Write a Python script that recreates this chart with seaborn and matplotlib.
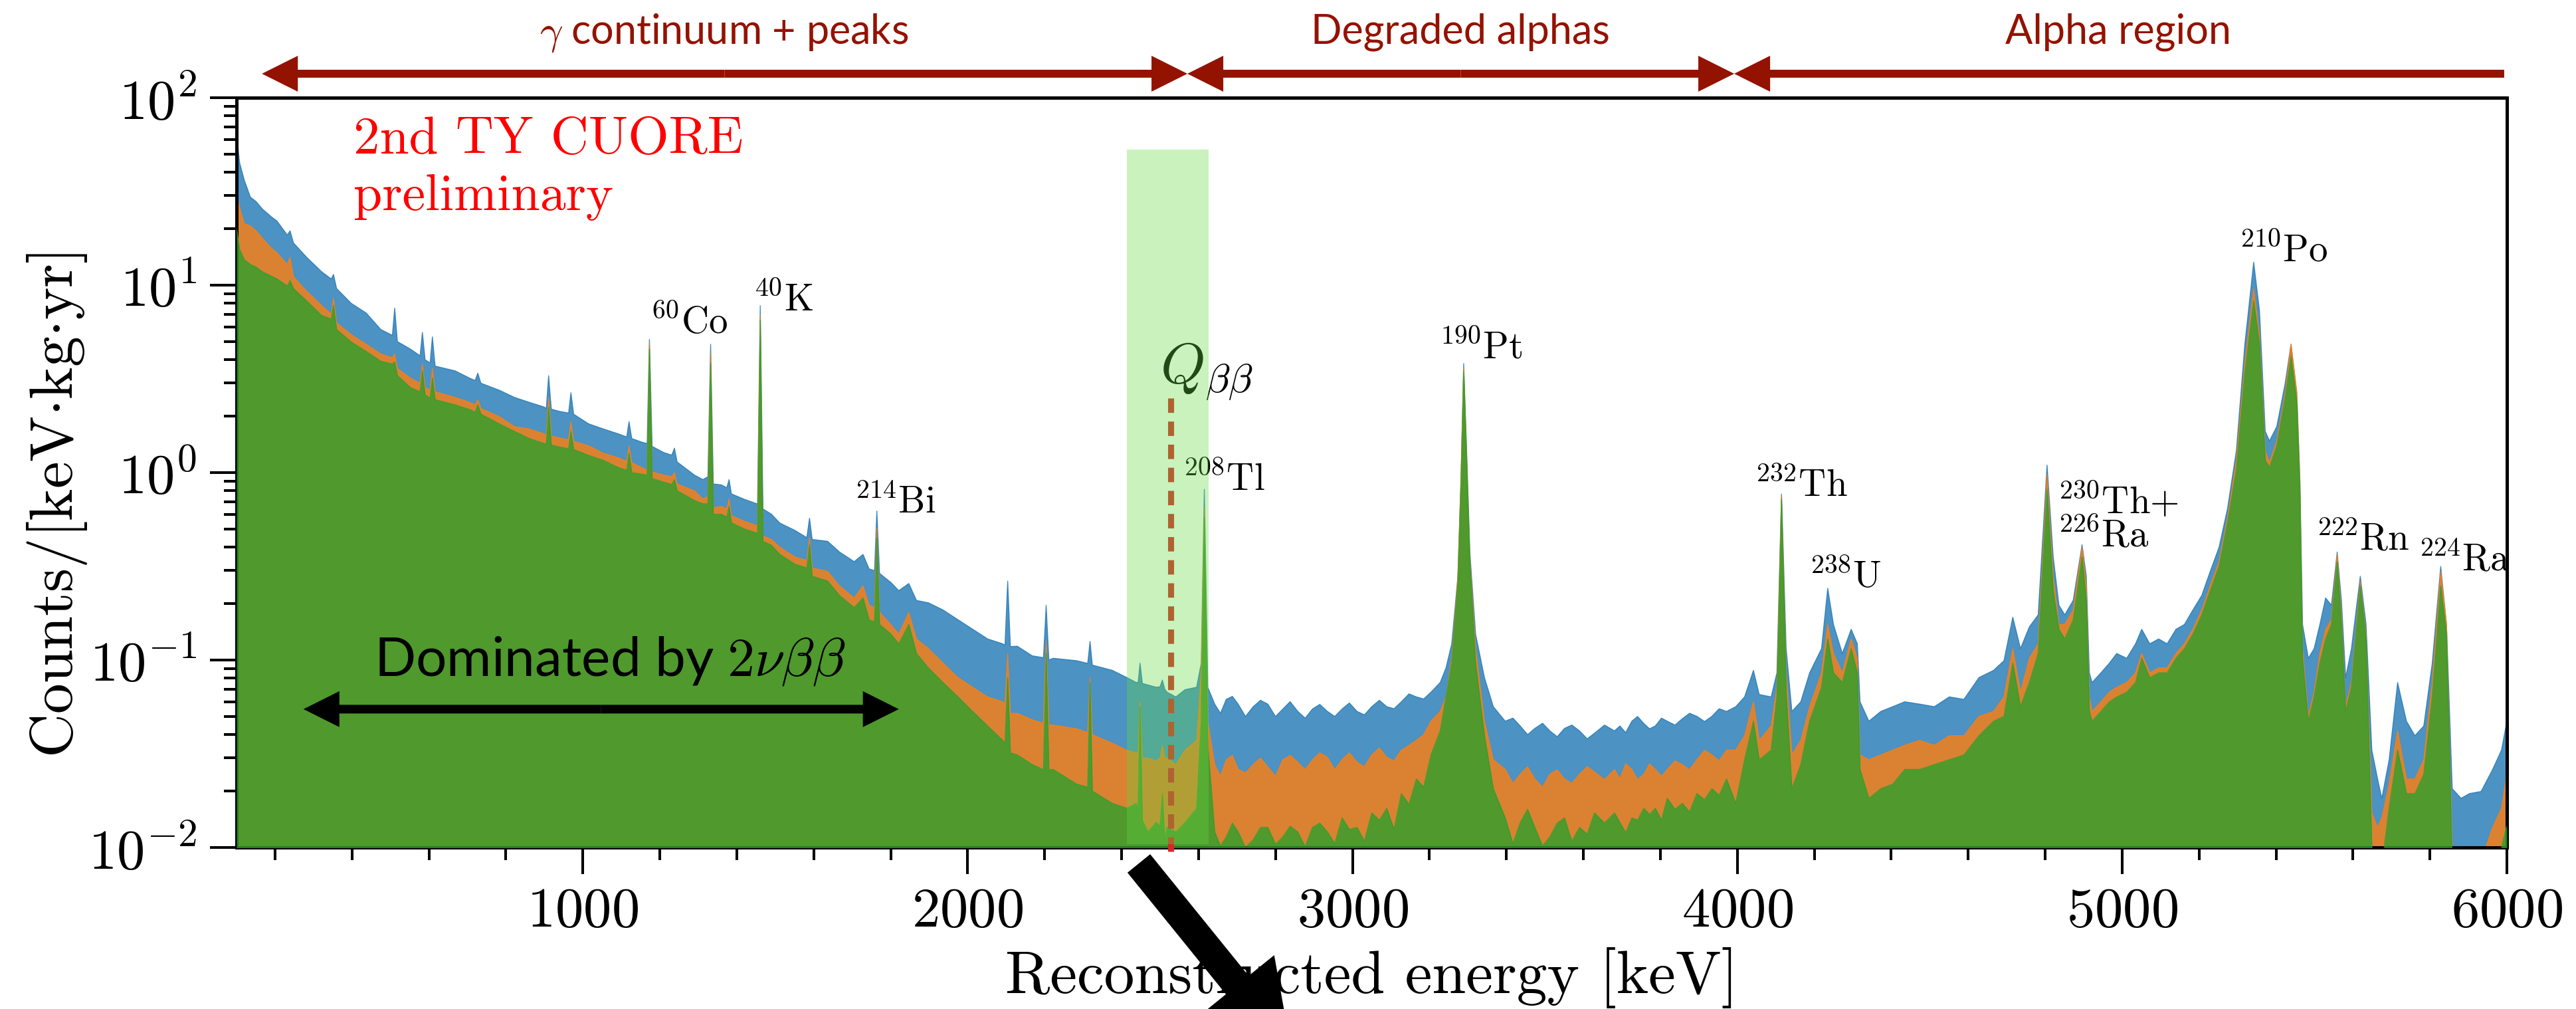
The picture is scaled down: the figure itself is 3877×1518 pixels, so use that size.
import matplotlib
matplotlib.use("Agg")
import matplotlib.pyplot as plt
import seaborn as sns
import numpy as np
from matplotlib.ticker import MultipleLocator, LogLocator, NullFormatter
from matplotlib.patches import FancyArrow
from matplotlib.transforms import IdentityTransform

# ---------------- data ----------------
energy_keV = [
    100, 108, 120, 136, 151, 167, 190, 205, 232, 239,
    248, 282, 321, 346, 352, 360, 398, 437, 475, 505,
    511, 518, 552, 577, 583, 590, 603, 609, 616, 668,
    706, 720, 727, 735, 783, 822, 861, 899, 905, 911,
    918, 940, 963, 969, 976, 1015, 1053, 1092, 1114, 1120,
    1127, 1155, 1167, 1173, 1180, 1210, 1231, 1238, 1245, 1290,
    1312, 1325, 1332, 1339, 1360, 1374, 1380, 1386, 1420, 1454,
    1461, 1468, 1490, 1512, 1551, 1582, 1589, 1596, 1636, 1667,
    1705, 1728, 1744, 1758, 1764, 1771, 1800, 1821, 1847, 1867,
    1898, 1936, 1975, 2013, 2052, 2091, 2097, 2104, 2111, 2129,
    2168, 2197, 2204, 2211, 2222, 2283, 2312, 2318, 2324, 2376,
    2414, 2438, 2443, 2448, 2454, 2468, 2490, 2500, 2506, 2512,
    2518, 2541, 2565, 2595, 2607, 2615, 2624, 2642, 2672, 2703,
    2742, 2780, 2819, 2858, 2896, 2935, 2973, 3012, 3050, 3089,
    3127, 3166, 3204, 3228, 3243, 3258, 3274, 3282, 3289, 3297,
    3305, 3320, 3343, 3366, 3397, 3436, 3474, 3513, 3551, 3590,
    3629, 3681, 3695, 3726, 3757, 3787, 3818, 3857, 3895, 3934,
    3972, 3996, 4019, 4042, 4057, 4088, 4103, 4115, 4127, 4142,
    4165, 4188, 4219, 4235, 4250, 4273, 4296, 4312, 4319, 4342,
    4373, 4404, 4435, 4474, 4512, 4551, 4589, 4628, 4666, 4693,
    4716, 4736, 4759, 4782, 4805, 4821, 4836, 4851, 4873, 4896,
    4907, 4915, 4922, 4945, 4967, 4986, 5012, 5035, 5051, 5072,
    5095, 5117, 5140, 5162, 5184, 5207, 5229, 5252, 5274, 5297,
    5319, 5342, 5357, 5372, 5383, 5402, 5424, 5439, 5454, 5462,
    5469, 5484, 5499, 5514, 5529, 5544, 5559, 5570, 5581, 5596,
    5619, 5634, 5649, 5664, 5675, 5694, 5716, 5739, 5761, 5784,
    5806, 5828, 5843, 5858, 5881, 5903, 5933, 5963, 5986, 6000,
]

counts_blue = [
    65, 45, 36.4, 29.5, 27.9, 25.5, 23.2, 22.0, 18.5, 19.5,
    16.8, 14.1, 11.8, 10.8, 11.4, 9.6, 8.0, 7.1, 5.8, 5.4,
    7.55, 5.0, 4.56, 4.2, 5.6, 4.0, 3.85, 5.3, 3.7, 3.49,
    3.19, 3.1, 3.39, 3.0, 2.75, 2.52, 2.37, 2.24, 2.2, 3.29,
    2.18, 2.12, 2.08, 2.67, 2.05, 1.82, 1.71, 1.61, 1.55, 1.87,
    1.52, 1.45, 1.43, 5.13, 1.38, 1.28, 1.24, 1.35, 1.14, 0.97,
    0.918, 0.95, 4.84, 0.87, 0.86, 0.83, 0.918, 0.77, 0.72, 0.68,
    7.78, 0.64, 0.60, 0.538, 0.492, 0.45, 0.571, 0.44, 0.43, 0.377,
    0.335, 0.366, 0.306, 0.30, 0.624, 0.29, 0.26, 0.2345, 0.256, 0.208,
    0.202, 0.185, 0.164, 0.146, 0.1296, 0.1221, 0.12, 0.264, 0.118, 0.1185,
    0.1053, 0.103, 0.196, 0.10, 0.1022, 0.0992, 0.096, 0.1258, 0.094, 0.0881,
    0.0806, 0.0759, 0.076, 0.0963, 0.075, 0.0737, 0.0716, 0.072, 0.0782, 0.070,
    0.0674, 0.0636, 0.0695, 0.0716, 0.0963, 0.815, 0.0716, 0.0582, 0.0617, 0.0582,
    0.0564, 0.0582, 0.0548, 0.0532, 0.0548, 0.0532, 0.0548, 0.0532, 0.0564, 0.0564,
    0.0599, 0.0636, 0.0674, 0.0759, 0.0908, 0.1221, 0.280, 0.918, 3.82, 1.235,
    0.377, 0.1375, 0.0806, 0.0564, 0.0472, 0.0445, 0.0432, 0.0419, 0.0432, 0.0419,
    0.0407, 0.0419, 0.0445, 0.0472, 0.0459, 0.0445, 0.0472, 0.0486, 0.0501, 0.0501,
    0.0532, 0.0564, 0.0636, 0.0881, 0.0655, 0.0636, 0.0855, 0.768, 0.1151, 0.0532,
    0.0599, 0.0855, 0.1151, 0.2416, 0.1548, 0.1084, 0.1459, 0.1221, 0.0599, 0.0472,
    0.0532, 0.0564, 0.0599, 0.0582, 0.0564, 0.0636, 0.0617, 0.0806, 0.0881, 0.0992,
    0.1692, 0.1151, 0.1503, 0.1743, 1.097, 0.355, 0.196, 0.1743, 0.2083, 0.412,
    0.280, 0.0855, 0.0759, 0.0855, 0.0963, 0.1084, 0.1022, 0.1221, 0.1459, 0.1221,
    0.1296, 0.1221, 0.1459, 0.1548, 0.185, 0.221, 0.297, 0.400, 0.643, 1.31,
    4.84, 13.27, 7.33, 1.662, 1.476, 1.76, 3.01, 4.84, 2.67, 0.918,
    0.1548, 0.1022, 0.1151, 0.1548, 0.2145, 0.196, 0.377, 0.2083, 0.0806, 0.1151,
    0.280, 0.1548, 0.0331, 0.0232, 0.0183, 0.0294, 0.0759, 0.0472, 0.0395, 0.0445,
    0.0963, 0.316, 0.1548, 0.0206, 0.0183, 0.0194, 0.0199, 0.0261, 0.0331, 0.0472,
]

counts_orange = [
    31, 26, 21.3, 20.7, 19.5, 17.85, 15.8, 14.9, 12.9, 14.1,
    11.1, 9.3, 7.8, 7.0, 8.5, 6.3, 5.45, 4.84, 4.3, 4.1,
    4.3, 3.6, 3.19, 3.0, 3.8, 2.85, 2.75, 3.6, 2.7, 2.52,
    2.37, 2.3, 2.45, 2.2, 1.99, 1.76, 1.71, 1.61, 1.58, 2.52,
    1.57, 1.53, 1.50, 1.87, 1.47, 1.39, 1.27, 1.20, 1.15, 1.39,
    1.13, 1.06, 1.03, 4.84, 1.01, 0.97, 0.95, 1.0, 0.87, 0.80,
    0.724, 0.746, 4.30, 0.65, 0.66, 0.64, 0.724, 0.59, 0.55, 0.52,
    6.91, 0.46, 0.44, 0.40, 0.355, 0.34, 0.45, 0.31, 0.297, 0.249,
    0.2145, 0.249, 0.196, 0.19, 0.507, 0.18, 0.155, 0.1375, 0.1796, 0.1296,
    0.1151, 0.0963, 0.0806, 0.0716, 0.0636, 0.060, 0.058, 0.1084, 0.052, 0.052,
    0.048, 0.046, 0.1258, 0.045, 0.045, 0.043, 0.041, 0.0806, 0.040, 0.036,
    0.033, 0.032, 0.032, 0.0599, 0.030, 0.030, 0.029, 0.030, 0.0351, 0.030,
    0.030, 0.0277, 0.0331, 0.0373, 0.0855, 0.643, 0.0472, 0.0277, 0.0294, 0.0261,
    0.0277, 0.0269, 0.0294, 0.0285, 0.0294, 0.0303, 0.0294, 0.0285, 0.0312, 0.0303,
    0.0331, 0.0373, 0.0472, 0.0532, 0.0636, 0.1022, 0.280, 0.918, 3.60, 1.164,
    0.355, 0.1151, 0.0472, 0.0294, 0.0261, 0.0246, 0.0232, 0.0246, 0.0232, 0.0246,
    0.0253, 0.0261, 0.0232, 0.0261, 0.0246, 0.0261, 0.0261, 0.0277, 0.0294, 0.0312,
    0.0331, 0.0331, 0.0395, 0.0599, 0.0373, 0.0445, 0.0716, 0.746, 0.0855, 0.0312,
    0.0373, 0.0564, 0.0855, 0.1548, 0.1084, 0.0855, 0.1296, 0.1022, 0.0312, 0.0294,
    0.0312, 0.0331, 0.0351, 0.0373, 0.0351, 0.0395, 0.0395, 0.0501, 0.0532, 0.0636,
    0.1151, 0.0674, 0.1022, 0.1221, 0.974, 0.280, 0.1548, 0.1548, 0.185, 0.400,
    0.249, 0.0636, 0.0532, 0.0599, 0.0674, 0.0716, 0.0759, 0.0855, 0.1084, 0.0855,
    0.0908, 0.0908, 0.1084, 0.1221, 0.1459, 0.185, 0.249, 0.335, 0.571, 1.164,
    3.82, 9.57, 5.45, 1.31, 1.13, 1.476, 2.67, 4.84, 2.67, 0.918,
    0.1151, 0.0501, 0.0674, 0.1084, 0.1459, 0.164, 0.366, 0.1743, 0.0564, 0.0759,
    0.264, 0.1375, 0.0153, 0.0128, 0.0144, 0.0218, 0.0419, 0.0232, 0.0232, 0.0294,
    0.0759, 0.297, 0.1548, 0.0101, 0.008, 0.008, 0.0085, 0.0128, 0.0162, 0.025,
]

counts_green = [
    20, 15.5, 13.7, 12.9, 12.5, 11.8, 11.2, 10.8, 9.9, 10.6,
    9.6, 8.25, 6.9, 6.6, 7.8, 5.8, 4.98, 4.43, 3.93, 3.8,
    3.9, 3.3, 2.84, 2.7, 3.5, 2.6, 2.5, 3.2, 2.45, 2.30,
    2.17, 2.1, 2.30, 2.05, 1.82, 1.66, 1.52, 1.43, 1.42, 2.24,
    1.40, 1.37, 1.34, 1.66, 1.33, 1.235, 1.164, 1.065, 1.03, 1.27,
    1.00, 0.98, 0.97, 4.56, 0.93, 0.89, 0.865, 0.918, 0.80, 0.71,
    0.682, 0.682, 3.82, 0.60, 0.60, 0.58, 0.662, 0.54, 0.50, 0.475,
    6.51, 0.43, 0.41, 0.366, 0.325, 0.31, 0.412, 0.28, 0.264, 0.221,
    0.1905, 0.2145, 0.164, 0.16, 0.45, 0.155, 0.138, 0.1221, 0.1548, 0.1084,
    0.0908, 0.0759, 0.0636, 0.0532, 0.0445, 0.0373, 0.036, 0.0806, 0.032, 0.0312,
    0.0277, 0.026, 0.1084, 0.026, 0.0261, 0.0218, 0.021, 0.0759, 0.020, 0.0172,
    0.0162, 0.0172, 0.016, 0.0564, 0.014, 0.0121, 0.0136, 0.013, 0.0194, 0.011,
    0.0128, 0.0121, 0.0136, 0.0162, 0.0472, 0.571, 0.0351, 0.0121, 0.0114, 0.0121,
    0.0110, 0.0128, 0.0114, 0.0121, 0.0128, 0.0121, 0.0144, 0.0128, 0.0153, 0.0162,
    0.0194, 0.0232, 0.0312, 0.0419, 0.0636, 0.0963, 0.264, 0.865, 3.49, 1.097,
    0.335, 0.0963, 0.0395, 0.0206, 0.0144, 0.0136, 0.0128, 0.0114, 0.0144, 0.0128,
    0.0153, 0.0153, 0.0136, 0.0144, 0.0162, 0.0162, 0.0183, 0.0172, 0.0194, 0.0206,
    0.0232, 0.0172, 0.0294, 0.0472, 0.0294, 0.0331, 0.0636, 0.724, 0.0674, 0.0206,
    0.0277, 0.0472, 0.0716, 0.1296, 0.0855, 0.0759, 0.1151, 0.0855, 0.0261, 0.0183,
    0.0206, 0.0218, 0.0261, 0.0261, 0.0277, 0.0294, 0.0312, 0.0395, 0.0472, 0.0501,
    0.0963, 0.0564, 0.0759, 0.1084, 0.815, 0.2345, 0.1459, 0.1296, 0.164, 0.355,
    0.2083, 0.0532, 0.0472, 0.0532, 0.0599, 0.0636, 0.0674, 0.0759, 0.1022, 0.0806,
    0.0855, 0.0855, 0.1022, 0.1151, 0.1375, 0.1743, 0.2345, 0.316, 0.538, 1.034,
    3.39, 8.25, 4.84, 1.164, 1.065, 1.39, 2.52, 4.17, 2.37, 0.815,
    0.1022, 0.0472, 0.0636, 0.0963, 0.1296, 0.1548, 0.335, 0.1548, 0.0532, 0.0716,
    0.249, 0.1296, 0.0101, 0.008, 0.008, 0.0162, 0.0331, 0.0194, 0.0194, 0.0246,
    0.0636, 0.249, 0.1375, 0.008, 0.006, 0.006, 0.006, 0.0063, 0.0101, 0.013,
]

# extra readings of the bin-to-bin jitter in the flat "degraded alpha" stretch
detail_energy_keV = [
    2657, 2688, 2722, 2761, 2800, 2838, 2877, 2915, 2954, 2992,
    3031, 3070, 3108, 3147, 3185,
    3417, 3455, 3494, 3532, 3570, 3610, 3655, 3710, 3741, 3772,
    3803, 3838, 3876, 3915, 3953,
]
detail_blue = [
    0.052, 0.064, 0.050, 0.061, 0.050, 0.060, 0.049, 0.058, 0.050, 0.059,
    0.051, 0.061, 0.055, 0.066, 0.062,
    0.049, 0.040, 0.046, 0.039, 0.045, 0.038, 0.045, 0.041, 0.050, 0.043,
    0.049, 0.045, 0.052, 0.047, 0.055,
]
detail_orange = [
    0.024, 0.031, 0.025, 0.030, 0.024, 0.031, 0.026, 0.032, 0.026, 0.032,
    0.027, 0.034, 0.029, 0.035, 0.040,
    0.022, 0.027, 0.021, 0.026, 0.022, 0.027, 0.023, 0.028, 0.023, 0.028,
    0.024, 0.029, 0.026, 0.033, 0.029,
]
detail_green = [
    0.0102, 0.0135, 0.0100, 0.0128, 0.0104, 0.0130, 0.0101, 0.0135, 0.0105, 0.0125,
    0.0108, 0.0140, 0.0125, 0.0170, 0.0210,
    0.0105, 0.0160, 0.0102, 0.0135, 0.0108, 0.0118, 0.0135, 0.0120, 0.0140, 0.0150,
    0.0140, 0.0160, 0.0155, 0.0180, 0.0190,
]

# isotope labels: (text, energy of label left edge, counts at baseline)
isotope_labels = [r"$^{60}\mathrm{Co}$", r"$^{40}\mathrm{K}$", r"$^{214}\mathrm{Bi}$",
                  r"$^{208}\mathrm{Tl}$", r"$^{190}\mathrm{Pt}$", r"$^{232}\mathrm{Th}$",
                  r"$^{238}\mathrm{U}$", r"$^{230}\mathrm{Th}{+}$", r"$^{226}\mathrm{Ra}$",
                  r"$^{210}\mathrm{Po}$", r"$^{222}\mathrm{Rn}$", r"$^{224}\mathrm{Ra}$"]
isotope_label_energy = [1175, 1443, 1705, 2559, 3226, 4046, 4187, 4833, 4833, 5304, 5505, 5771]
isotope_label_counts = [5.51, 7.28, 0.608, 0.80, 4.04, 0.745, 0.241, 0.603, 0.401, 13.3, 0.388, 0.301]

q_bb_keV = 2528
roi_keV = [2414, 2626]
region_names = [r"$\gamma$ continuum + peaks", "Degraded alphas", "Alpha region"]
region_text_keV = [1367, 3281, 4990]
region_bounds_keV = [166, 2571, 3992, 5993]

assert len(energy_keV) == len(counts_blue) == len(counts_orange) == len(counts_green)
assert len(detail_energy_keV) == len(detail_blue) == len(detail_orange) == len(detail_green)

# merge the main readings with the jitter readings, ordered by energy
all_e = np.array(energy_keV + detail_energy_keV, dtype=float)
order = np.argsort(all_e, kind="stable")
E = all_e[order]
blue = np.array(counts_blue + detail_blue)[order]
orange = np.array(counts_orange + detail_orange)[order]
green = np.array(counts_green + detail_green)[order]

# ---------------- style ----------------
sns.set_theme(style="ticks")
plt.rcParams.update({
    "font.family": ["cmr10", "DejaVu Sans"],
    "mathtext.fontset": "cm",
    "axes.formatter.use_mathtext": True,
    "axes.edgecolor": "black",
    "axes.labelcolor": "black",
    "text.color": "black",
    "xtick.color": "black",
    "ytick.color": "black",
})

W, H, DPI = 3877, 1518, 100
fig = plt.figure(figsize=(W / DPI, H / DPI), dpi=DPI)
ax = fig.add_axes([356 / W, 1 - 1275 / H, (3773 - 356) / W, 1128 / H])

pal = sns.color_palette("tab10")
series = [(blue, pal[0], 1), (orange, pal[1], 2), (green, pal[2], 3)]
for vals, col, z in series:
    ax.fill_between(E, 1e-4, vals, color=col, alpha=0.8, lw=0, zorder=z)
    sns.lineplot(x=E, y=vals, ax=ax, color=col, alpha=0.8, lw=1.0,
                 sort=False, estimator=None, zorder=z)

ax.set_yscale("log")
ax.set_xlim(100, 6000)
ax.set_ylim(0.01, 100)

# ROI band and Q-value line
ax.axvspan(roi_keV[0], roi_keV[1], ymin=0.004, ymax=0.931,
           color=(99 / 255, 217 / 255, 64 / 255), alpha=0.34, lw=0, zorder=6)
ax.plot([q_bb_keV, q_bb_keV], [0.0095, 2.52], color=pal[3], lw=6.5,
        dashes=(2.4, 1.45), zorder=4, clip_on=False)
ax.text(2500, 3.01, r"$Q_{\beta\beta}$", fontsize=62, ha="left", va="baseline", zorder=5)

for lab, ex, cy in zip(isotope_labels, isotope_label_energy, isotope_label_counts):
    ax.text(ex, cy, lab, fontsize=41, ha="left", va="baseline", zorder=5)

# red preliminary label
ax.text(0.0515, 0.9255, "2nd TY CUORE", transform=ax.transAxes, fontsize=57,
        color="red", ha="left", va="baseline", zorder=7)
ax.text(0.0515, 0.850, "preliminary", transform=ax.transAxes, fontsize=56,
        color="red", ha="left", va="baseline", zorder=7)

# ticks and spines
for sp in ax.spines.values():
    sp.set_linewidth(3.6)
    sp.set_visible(True)
ax.xaxis.set_major_locator(MultipleLocator(1000))
ax.xaxis.set_minor_locator(MultipleLocator(200))
ax.yaxis.set_major_locator(LogLocator(base=10))
ax.yaxis.set_minor_locator(LogLocator(base=10, subs=np.arange(2, 10)))
ax.yaxis.set_minor_formatter(NullFormatter())
ax.tick_params(which="major", direction="out", length=29, width=2.9,
               labelsize=61, pad=14, top=False, right=False)
ax.tick_params(which="minor", direction="out", length=14, width=2.9,
               top=False, right=False)

ax.set_xlabel("Reconstructed energy [keV]", fontsize=66)
ax.set_ylabel(r"Counts/[keV$\cdot$kg$\cdot$yr]", fontsize=66)
ax.xaxis.set_label_coords(0.5, -0.133)
ax.yaxis.set_label_coords(-0.065, 0.457)

# region arrows on top
dark_red = "#941200"
trans = ax.get_xaxis_transform()
arrow_y = 1.032


def half_arrow(x_from, x_to, y, color, width, head):
    ax.annotate("", xy=(x_to, y), xytext=(x_from, y), xycoords=trans, textcoords=trans,
                arrowprops=dict(width=width, headwidth=head, headlength=head,
                                color=color, lw=0, shrink=0),
                annotation_clip=False)


b = region_bounds_keV
for lo, hi in [(b[0], b[1]), (b[1], b[2])]:
    mid = 0.5 * (lo + hi)
    half_arrow(mid, lo, arrow_y, dark_red, 8.6, 38.9)
    half_arrow(mid, hi, arrow_y, dark_red, 8.6, 38.9)
half_arrow(b[3], b[2], arrow_y, dark_red, 8.6, 38.9)
for name, xc in zip(region_names, region_text_keV):
    ax.text(xc, 1.0723, name, transform=trans, fontsize=44, color=dark_red,
            family="Lato", ha="center", va="baseline")

# 2nu-bb annotation
ax.text(457, 0.0828, r"Dominated by $2\nu\beta\beta$", fontsize=59, family="Lato",
        ha="left", va="baseline", zorder=7)
mid = 0.5 * (274 + 1821)
for end in (274, 1821):
    ax.annotate("", xy=(end, 0.0547), xytext=(mid, 0.0547),
                arrowprops=dict(width=9.4, headwidth=38.9, headlength=38.9,
                                color="black", lw=0, shrink=0), zorder=7)

# big black arrow leaving the figure (pixel coordinates)
big = FancyArrow(1714, H - 1299, 230, -284, width=44, head_width=143, head_length=130,
                 length_includes_head=True, transform=IdentityTransform(),
                 color="black", lw=0, zorder=10)
fig.add_artist(big)

fig.savefig("out.png", dpi=DPI)
